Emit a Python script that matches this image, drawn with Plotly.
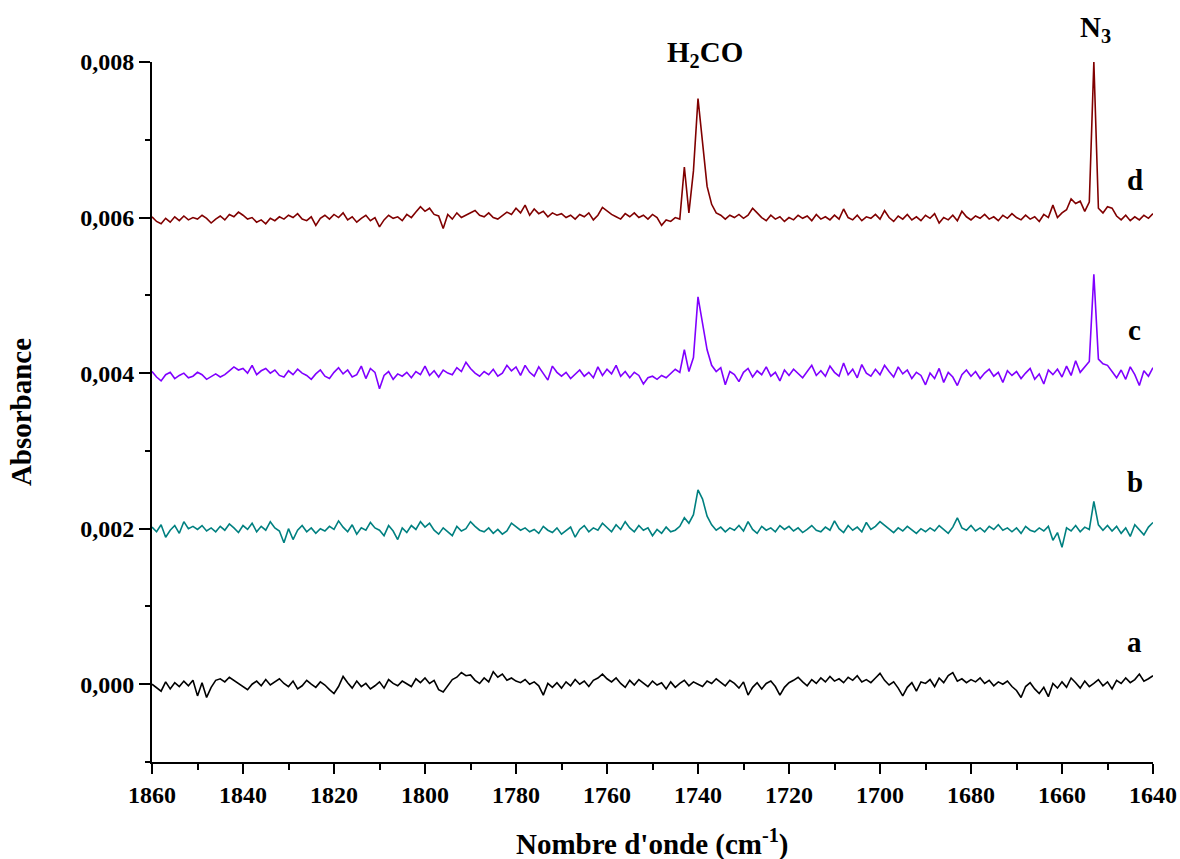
import plotly.graph_objects as go

# Wavenumbers (cm-1), 1860 -> 1640, step 1
wavenumber = list(range(1860, 1639, -1))

# Absorbance values in units of 1e-5
UNIT = 1e-5

spec_a = [
    0, -4, -9, 3, -6, 2, -3, 4, -2, 5,
    -15, 2, -17, -4, 5, 7, 3, 9, 5, 2,
    -3, -7, 0, 4, -2, 6, -1, 3, 7, 1,
    -3, 4, -6, -2, 5, 0, -4, 3, -1, -7,
    -12, -3, 10, 2, -5, 4, -3, 1, -6, -2,
    3, -5, 6, 1, -2, 4, 0, -3, 7, 2,
    8, 1, 5, -7, -10, -2, 6, 9, 15, 11,
    12, 5, 1, 8, 3, 16, 9, 13, 5, 8,
    4, 2, 6, 0, 3, -2, -14, 1, -4, 2,
    -5, 3, -2, 6, 0, 4, -3, 5, 8, 13,
    7, 3, 8, 1, -4, 5, -1, 6, 2, -3,
    4, -1, 2, -6, 3, -4, 1, 5, -2, 3,
    0, -3, 4, 1, 7, 3, -2, 5, 1, -5,
    3, -14, -4, 2, -6, 1, 4, -3, -14, -4,
    2, 5, 9, 3, -2, 6, 1, 8, 3, 10,
    4, 7, 2, 9, 5, 11, 3, 6, 2, 8,
    14, 5, -1, 3, -5, -15, -4, 2, -9, 3,
    1, 6, -3, 8, 2, 11, 15, 4, 7, 2,
    6, 3, 8, 1, 5, -2, 3, 0, 4, -3,
    -8, -17, -3, 2, -6, -12, -4, -16, 1, -5,
    3, -4, 8, 2, -5, 4, -3, 1, 6, -2,
    3, -6, 5, 1, 8, 2, 6, 13, 4, 7,
    11,
]

spec_b = [
    202, 196, 205, 189, 198, 204, 194, 209, 200, 203,
    199, 204, 197, 201, 196, 203, 198, 206, 201, 195,
    204, 199, 207, 196, 203, 198, 209, 201, 197, 182,
    200, 186, 198, 204, 196, 201, 194, 200, 197, 203,
    199, 210, 202, 196, 205, 193, 201, 198, 208, 201,
    198, 191, 204, 197, 186, 201, 195, 204, 199, 209,
    202, 207, 198, 193, 201, 196, 191, 203, 197, 200,
    209, 203, 198, 196, 201, 194, 199, 193, 197, 207,
    203, 198, 201, 196, 199, 194, 203, 198, 195, 201,
    193, 197, 202, 189, 199, 204, 196, 201, 198, 207,
    201, 196, 205, 199, 209, 201, 196, 204, 198, 201,
    191, 199, 194, 202, 196, 198, 203, 214, 207, 218,
    250, 238, 216, 205, 198, 202, 196, 201, 198, 204,
    197, 209, 199, 194, 203, 198, 201, 196, 204, 199,
    203, 197, 201, 195, 199, 204, 198, 196, 202, 198,
    210, 200, 195, 204, 198, 202, 196, 208, 199, 203,
    209, 204, 200, 195, 201, 197, 203, 198, 194, 200,
    196, 201, 197, 204, 199, 194, 202, 214, 201, 198,
    204, 197, 201, 196, 203, 199, 205, 198, 201, 196,
    201, 194, 203, 198, 196, 201, 197, 203, 185, 195,
    176, 201, 197, 204, 196, 202, 199, 235, 205, 198,
    204, 197, 203, 194, 201, 190, 205, 198, 192, 202,
    208,
]

spec_c = [
    402, 395, 390, 398, 401, 393, 397, 400, 394, 396,
    401, 398, 392, 396, 399, 395, 398, 403, 408, 404,
    406, 400, 410, 398, 403, 406, 400, 404, 397, 395,
    403, 398, 405, 400, 397, 392, 399, 404, 396, 393,
    401, 407, 399, 404, 395, 398, 409, 393, 406, 401,
    380, 397, 402, 392, 399, 396, 401, 394, 402, 398,
    409, 397, 403, 395, 404, 400, 398, 407, 402, 414,
    406, 400, 396, 402, 398, 405, 396, 400, 410, 403,
    408, 397, 410, 401, 396, 408, 400, 391, 409, 401,
    396, 401, 393, 398, 404, 396, 401, 394, 408, 397,
    405, 399, 410, 396, 402, 394, 401, 397, 386, 394,
    396, 392, 397, 394, 399, 405, 401, 430, 402, 420,
    498, 465, 430, 410, 402, 407, 385, 402, 398, 389,
    401, 406, 395, 403, 398, 408, 396, 401, 390, 404,
    397, 405, 399, 394, 402, 410, 397, 403, 396, 409,
    401, 396, 413, 398, 405, 394, 411, 400, 396, 405,
    398, 410, 402, 395, 408, 399, 404, 393, 401, 397,
    385, 400, 393, 406, 388, 401, 395, 384, 398, 404,
    396, 402, 393, 400, 405, 396, 401, 388, 403, 397,
    402, 393, 400, 406, 392, 399, 386, 404, 398, 405,
    395, 409, 397, 416, 401, 408, 415, 527, 418, 412,
    410, 402, 394, 404, 392, 408, 398, 384, 403, 396,
    407,
]

spec_d = [
    601, 595, 592, 599, 594, 601, 596, 602, 597, 600,
    598, 603, 599, 593, 598, 602, 597, 604, 601, 607,
    603, 598, 600, 594, 597, 592, 599, 596, 601, 598,
    603, 600, 605, 598, 596, 601, 590, 599, 603, 598,
    604, 600, 606, 597, 601, 594, 599, 603, 596, 600,
    588, 597, 603, 599, 601, 596, 604, 600, 607, 614,
    608, 612, 604, 602, 586, 604, 598, 606, 600, 603,
    605, 609, 603, 601, 606, 600, 598, 603, 607, 604,
    612, 606, 616, 603, 611, 605, 608, 601, 606, 603,
    605, 600, 603, 598, 604, 601, 606, 597, 603, 613,
    608, 604, 601, 598, 605, 601, 606, 600, 603, 598,
    604, 600, 590, 597, 595, 600, 598, 665, 606, 660,
    753, 695, 640, 617, 606, 603, 598, 603, 600, 604,
    599, 603, 612, 606, 600, 596, 603, 598, 601, 595,
    600, 597, 603, 599, 602, 596, 604, 598, 601, 597,
    603, 598, 611, 600, 597, 603, 596, 601, 599, 604,
    598, 609, 600, 595, 602, 598, 604, 597, 601, 596,
    603, 599, 605, 593, 600, 597, 603, 596, 608, 601,
    597, 602, 599, 604, 598, 601, 596, 603, 599, 605,
    600, 597, 603, 598, 601, 595, 604, 600, 616, 600,
    606, 610, 624, 618, 621, 608, 620, 800, 612, 606,
    614, 612, 602, 597, 603, 596, 601, 597, 603, 599,
    605,
]

series_names = ["a", "b", "c", "d"]
series_values = [spec_a, spec_b, spec_c, spec_d]
series_colors = ["#000000", "#008080", "#8000FF", "#800000"]

# Trace labels (wavenumber, absorbance)
trace_label_text = ["a", "b", "c", "d"]
trace_label_x = [1644, 1644, 1644, 1644]
trace_label_y = [0.00054, 0.0026, 0.00455, 0.00648]

# Band labels above the plot (wavenumber, fraction of plot height)
band_label_text = ["H<sub>2</sub>CO", "N<sub>3</sub>"]
band_label_x = [1738.5, 1652.6]
band_label_yfrac = [0.983, 1.019]

x_title = "Nombre d'onde (cm<sup>-1</sup>)"
y_title = "Absorbance"

FONT = "Liberation Serif, Times New Roman, serif"

fig = go.Figure()
for name, vals, col in zip(series_names, series_values, series_colors):
    fig.add_trace(go.Scatter(
        x=wavenumber, y=[v * UNIT for v in vals], mode="lines", name=name,
        line=dict(color=col, width=1.6), showlegend=False,
    ))

for t, x, y in zip(trace_label_text, trace_label_x, trace_label_y):
    fig.add_annotation(x=x, y=y, xref="x", yref="y", text=t, showarrow=False,
                       font=dict(family=FONT, size=29, color="black", weight="bold"))

for t, x, y in zip(band_label_text, band_label_x, band_label_yfrac):
    fig.add_annotation(x=x, y=y, xref="x", yref="paper", text=t, showarrow=False,
                       yanchor="bottom",
                       font=dict(family=FONT, size=29, color="black", weight="bold"))

# x-axis title as an annotation so it can sit at the very bottom edge
fig.add_annotation(x=0.5, y=-0.086, xref="paper", yref="paper", text=x_title,
                   showarrow=False, yanchor="top", xanchor="center",
                   font=dict(family=FONT, size=29, color="black", weight="bold"))

fig.update_layout(
    width=1180, height=859,
    margin=dict(l=152, r=27, t=62, b=97, autoexpand=False),
    paper_bgcolor="white", plot_bgcolor="white",
    separators=",.",
    font=dict(family=FONT, color="black"),
)
fig.update_xaxes(
    range=[1860, 1640], tick0=1640, dtick=20,
    ticks="outside", ticklen=10, tickwidth=2, tickcolor="black",
    minor=dict(dtick=10, tick0=1640, ticks="outside", ticklen=6, tickwidth=2, tickcolor="black"),
    showline=True, linecolor="black", linewidth=2,
    showgrid=False, zeroline=False,
    tickfont=dict(family=FONT, size=24, weight="bold"),
    automargin=False,
)
fig.update_yaxes(
    range=[-0.001, 0.008], tick0=0, dtick=0.002, tickformat=".3f",
    ticks="outside", ticklen=11, tickwidth=2, tickcolor="black",
    minor=dict(dtick=0.001, tick0=0, ticks="outside", ticklen=5, tickwidth=2, tickcolor="black"),
    showline=True, linecolor="black", linewidth=2,
    showgrid=False, zeroline=False,
    tickfont=dict(family=FONT, size=24, weight="bold"),
    title=dict(text=y_title, standoff=40,
               font=dict(family=FONT, size=29, weight="bold")),
    automargin=False,
)

fig.write_html(
    "out.html",
    config={"displayModeBar": False},
    post_script="document.body.style.margin='0px';document.body.style.overflow='hidden';",
)
